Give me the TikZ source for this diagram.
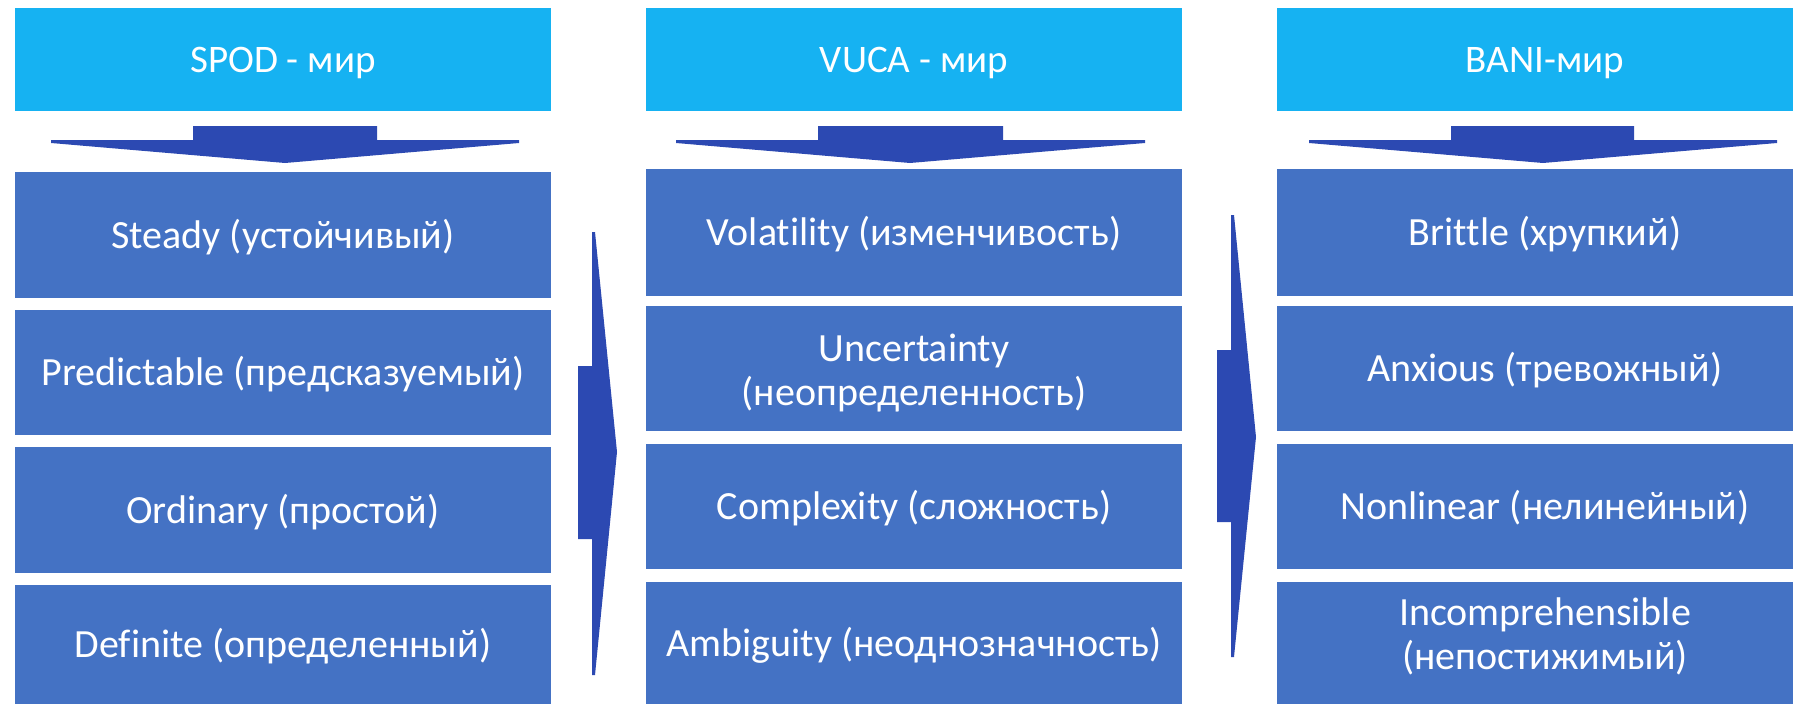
\documentclass[tikz,border=0pt]{standalone}
\usepackage{fontspec}
\setmainfont[Ligatures=NoCommon]{Carlito}
\definecolor{hdr}{RGB}{22,178,242}
\definecolor{boxblue}{RGB}{68,114,196}
\definecolor{arrowblue}{RGB}{44,73,178}
\tikzset{
  hdrbox/.style={fill=hdr, draw=none, inner sep=0pt, minimum width=536pt, minimum height=103pt, text=white, font=\fontsize{39}{46}\selectfont, text height=25pt, text depth=0pt},
  itembox/.style={fill=boxblue, draw=none, inner sep=0pt, minimum width=536pt, text=white, font=\fontsize{40}{44}\selectfont, text height=26pt, text depth=0pt},
  twoline/.style={text=white, align=center, font=\fontsize{40}{44}\selectfont},
  arrowshape/.style={fill=arrowblue, draw=none}
}
\begin{document}
\begin{tikzpicture}[x=1pt,y=-1pt]
\useasboundingbox (0,0) rectangle (1793,704);
\clip (0,0) rectangle (1793,704);
% column 1
\node[hdrbox] (h1) at (283,59.5) {SPOD - мир};
\node[itembox, minimum height=126pt] (a1) at (283,235) {Steady (устойчивый)};
\node[itembox, minimum height=125pt] (a2) at (283,372.5) {Predictable (предсказуемый)};
\node[itembox, minimum height=126pt] (a3) at (283,510) {Ordinary (простой)};
\node[itembox, minimum height=119pt] (a4) at (283,644.5) {Definite (определенный)};
% column 2
\node[hdrbox] (h2) at (914,59.5) {VUCA - мир};
\node[itembox, minimum height=127pt] (b1) at (914,232.5) {Volatility (изменчивость)};
\node[itembox, minimum height=125pt, label={[twoline, yshift=-5pt]center:{Uncertainty\\(неопределенность)}}] (b2) at (914,368.5) {};
\node[itembox, minimum height=125pt] (b3) at (914,506.5) {Complexity (сложность)};
\node[itembox, minimum height=122pt] (b4) at (914,643) {Ambiguity (неоднозначность)};
% column 3
\node[hdrbox] (h3) at (1545,59.5) {BANI-мир};
\node[itembox, minimum height=127pt] (c1) at (1545,232.5) {Brittle (хрупкий)};
\node[itembox, minimum height=125pt] (c2) at (1545,368.5) {Anxious (тревожный)};
\node[itembox, minimum height=125pt] (c3) at (1545,506.5) {Nonlinear (нелинейный)};
\node[itembox, minimum height=122pt, label={[twoline, yshift=7pt]center:{Incomprehensible\\(непостижимый)}}] (c4) at (1545,643) {};
% down arrows
\fill[arrowshape] (51,140) -- (193,140) -- (193,126) -- (377,126) -- (377,140) -- (519,140) -- (519,143) -- (285,163) -- (51,143) -- cycle;
\fill[arrowshape] (676,140) -- (818,140) -- (818,126) -- (1003,126) -- (1003,140) -- (1145,140) -- (1145,143) -- (910,163) -- (676,143) -- cycle;
\fill[arrowshape] (1309,140) -- (1451,140) -- (1451,126) -- (1634,126) -- (1634,140) -- (1777,140) -- (1777,143) -- (1543,163) -- (1309,143) -- cycle;
% right arrows
\fill[arrowshape] (592,232) -- (595,232) -- (617,452) -- (595,675) -- (592,675) -- (592,539) -- (578,539) -- (578,366) -- (592,366) -- cycle;
\fill[arrowshape] (1231,215) -- (1234,215) -- (1256,437) -- (1234,657) -- (1231,657) -- (1231,522) -- (1217,522) -- (1217,350) -- (1231,350) -- cycle;
\end{tikzpicture}
\end{document}
